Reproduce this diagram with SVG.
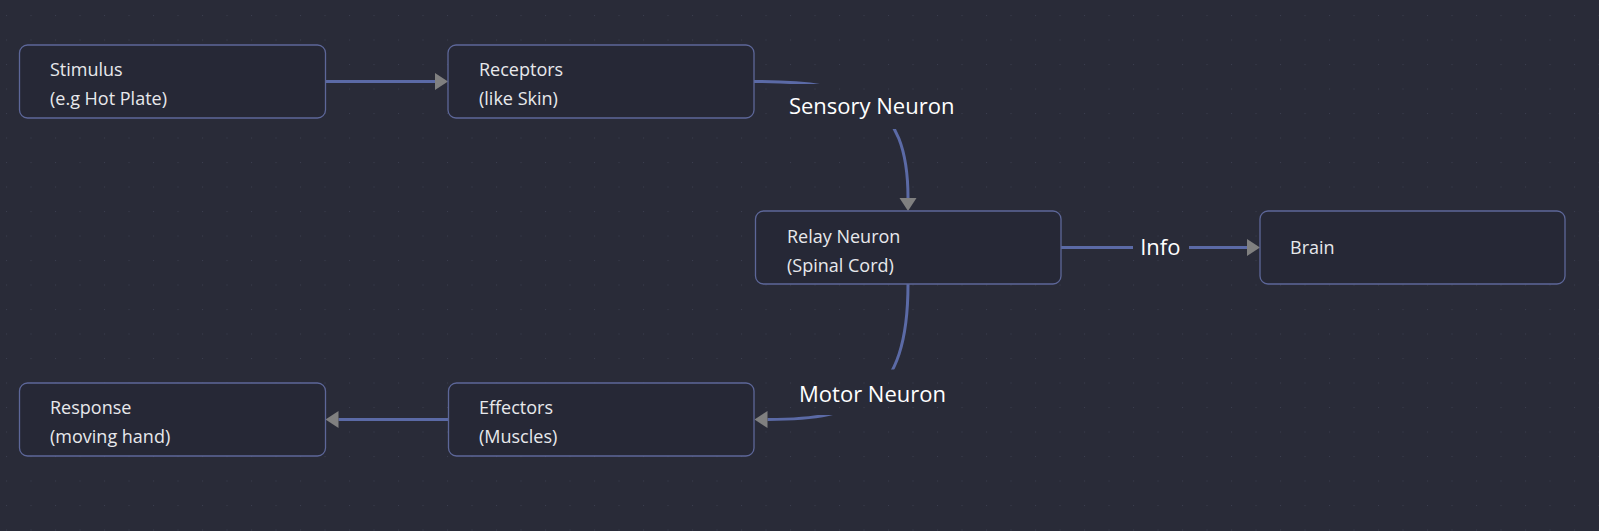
<svg xmlns="http://www.w3.org/2000/svg" width="1599" height="531" viewBox="0 0 1599 531">
<style>
.node rect{fill:#262836;stroke:#5d6799;stroke-width:1.3}
.node text{font-family:"Open Sans","Noto Sans",sans-serif;font-size:18px;fill:#e8e8ec}
.edge{fill:none;stroke:#5b6aa6;stroke-width:3}
.lbl{font-family:"Open Sans","Noto Sans",sans-serif;font-size:22px;fill:#ffffff;text-anchor:middle}
</style>
<defs>
<pattern id="dots" x="6" y="15" width="24.5" height="24.5" patternUnits="userSpaceOnUse">
<rect x="-1" y="-1" width="2" height="2" fill="#3a3d4e"/>
</pattern>
<marker id="arr" markerUnits="userSpaceOnUse" markerWidth="14" markerHeight="18" refX="0" refY="8.5" orient="auto" viewBox="0 0 14 17">
<path d="M0,0 L13,8.5 L0,17 z" fill="#808080"/>
</marker>
<mask id="lblmask" maskUnits="userSpaceOnUse" x="0" y="0" width="1599" height="531">
<rect x="0" y="0" width="1599" height="531" fill="#fff"/>
<rect x="780" y="84" width="183" height="45" rx="5" fill="#000"/>
<rect x="790" y="369.5" width="165" height="45.5" rx="5" fill="#000"/>
<rect x="1133" y="225" width="56" height="45" rx="5" fill="#000"/>
</mask>
</defs>
<rect width="1599" height="531" fill="#292b38"/>
<rect width="1599" height="531" fill="url(#dots)"/>
<g id="connectors">
<g mask="url(#lblmask)">
<path class="edge" d="M325.5,81.5 L435,81.5" marker-end="url(#arr)"/>
<path class="edge" d="M754,81.5 C860,81.5 908,100 908,198" marker-end="url(#arr)"/>
<path class="edge" d="M1061,247.5 L1247,247.5" marker-end="url(#arr)"/>
<path class="edge" d="M908,284 C908,400 860,419.5 767.5,419.5" marker-end="url(#arr)"/>
<path class="edge" d="M448.5,419.5 L338.5,419.5" marker-end="url(#arr)"/>
</g>
<text class="lbl" x="871.7" y="114">Sensory Neuron</text>
<text class="lbl" x="1160.3" y="255">Info</text>
<text class="lbl" x="872.5" y="401.7">Motor Neuron</text>
</g>
<g id="stimulus" class="node">
<rect x="19.5" y="45" width="306" height="73" rx="8"/>
<text x="50" y="76">Stimulus</text>
<text x="50" y="105">(e.g Hot Plate)</text>
</g>
<g id="receptors" class="node">
<rect x="448" y="45" width="306" height="73" rx="8"/>
<text x="479" y="76">Receptors</text>
<text x="479" y="105">(like Skin)</text>
</g>
<g id="relay" class="node">
<rect x="755.5" y="211" width="305.5" height="73" rx="8"/>
<text x="787" y="242.5">Relay Neuron</text>
<text x="787" y="271.5">(Spinal Cord)</text>
</g>
<g id="brain" class="node">
<rect x="1260" y="211" width="305" height="73" rx="8"/>
<text x="1290" y="254">Brain</text>
</g>
<g id="response" class="node">
<rect x="19.5" y="383" width="306" height="73" rx="8"/>
<text x="50" y="414">Response</text>
<text x="50" y="443">(moving hand)</text>
</g>
<g id="effectors" class="node">
<rect x="448.5" y="383" width="305.5" height="73" rx="8"/>
<text x="479" y="414">Effectors</text>
<text x="479" y="443">(Muscles)</text>
</g>
</svg>
